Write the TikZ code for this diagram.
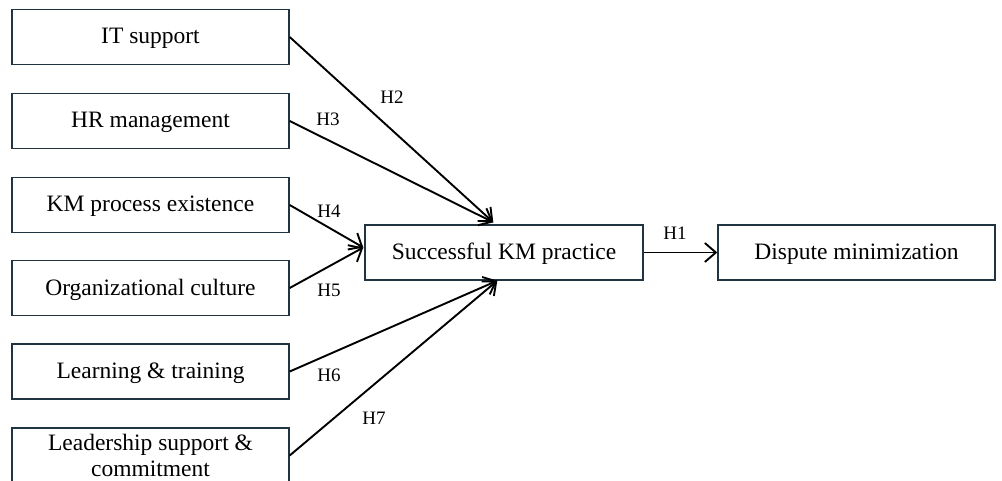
\documentclass[tikz,border=0pt]{standalone}
\usepackage{fontspec}
\setmainfont{Liberation Serif}
\usetikzlibrary{arrows.meta,calc}
\definecolor{boxline}{RGB}{32,52,66}
\begin{document}
\begin{tikzpicture}[x=1pt,y=-1pt,
  varbox/.style={draw=boxline,line width=1.4pt,minimum width=277pt,minimum height=55pt,inner sep=0pt,
    font=\fontsize{23.5}{28}\selectfont,align=center,text height=19pt,text depth=5pt},
  link/.style={line width=1.9pt,-{Straight Barb[length=11pt,width=19pt,line width=1.9pt]}},
  hlab/.style={font=\fontsize{19}{22}\selectfont,inner sep=0pt}]
\useasboundingbox (0,0) rectangle (1002,481);
\clip (0,0) rectangle (1002,481);
\node[varbox] (it) at (150.5,37) {IT support};
\node[varbox] (hr) at (150.5,121) {HR management};
\node[varbox] (kmp) at (150.5,205) {KM process existence};
\node[varbox] (oc) at (150.5,288) {Organizational culture};
\node[varbox] (lt) at (150.5,371.5) {Learning \& training};
\node[varbox,text height=,text depth=,font=\fontsize{23.5}{26}\selectfont] (ls) at (150.5,455.5) {Leadership support \&\\commitment};
\node[varbox,minimum width=278pt] (km) at (504,252.5) {Successful KM practice};
\node[varbox,minimum width=277pt] (dm) at (856.5,252.5) {Dispute minimization};
\coordinate (ktop) at ($(km.north west)+(129,-2)$);
\coordinate (kleft) at ($(km.west)+(-1,-5)$);
\coordinate (kbot) at ($(km.south west)+(133,0)$);
\draw[link] (it.east) -- (ktop);
\draw[link] (hr.east) -- (ktop);
\draw[link] (kmp.east) -- (kleft);
\draw[link] (oc.east) -- (kleft);
\draw[link] (lt.east) -- (kbot);
\draw[link] (ls.east) -- (kbot);
\draw[link] (km.east) -- (dm.west);
\node[hlab] (h1) at (675,233) {H1};
\node[hlab] (h2) at (392,97) {H2};
\node[hlab] (h3) at (328,119) {H3};
\node[hlab] (h4) at (329,211) {H4};
\node[hlab] (h5) at (329,290) {H5};
\node[hlab] (h6) at (329,375) {H6};
\node[hlab] (h7) at (374,418) {H7};
\end{tikzpicture}
\end{document}
